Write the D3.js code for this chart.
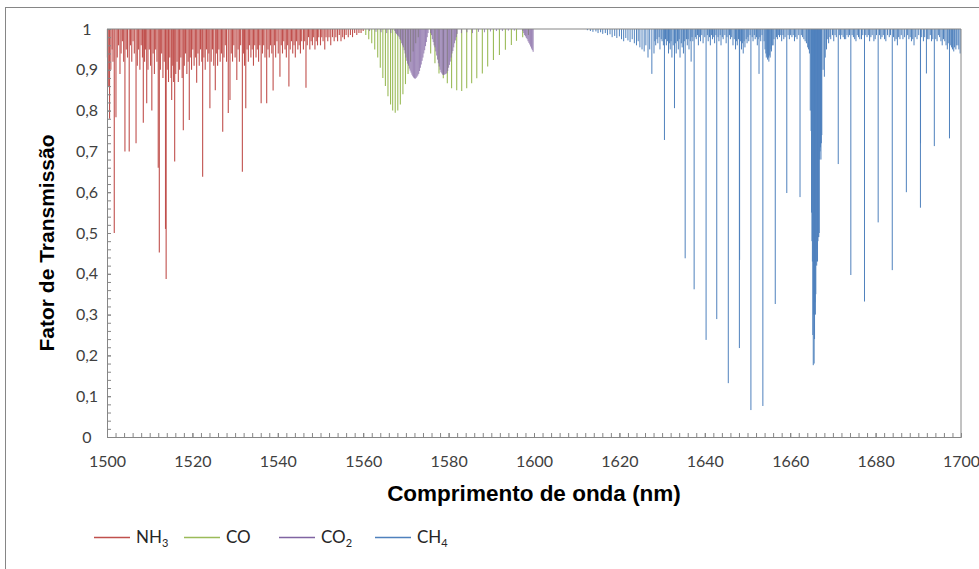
<!DOCTYPE html>
<html><head><meta charset="utf-8">
<script src="https://cdn.jsdelivr.net/npm/d3@7"></script>
<style>body{margin:0;background:#fff}svg{display:block}</style>
</head><body>
<svg id="c" width="979" height="569"></svg>
<script>
// ---------- data ----------
const xTickValues = [1500,1520,1540,1560,1580,1600,1620,1640,1660,1680,1700];
const yTickValues = [0,0.1,0.2,0.3,0.4,0.5,0.6,0.7,0.8,0.9,1];
const yTickLabels = ["0","0,1","0,2","0,3","0,4","0,5","0,6","0,7","0,8","0,9","1"];
const seriesNames = ["NH3","CO","CO2","CH4"];
const seriesColors = ["#C0504D","#9BBB59","#8064A2","#4F81BD"];

// absorption lines: [wavelength nm, transmission at line centre]
const nh3Lines = [
[1500.1,.93],[1500.3,.86],[1500.6,.78],[1500.9,.90],[1501.2,.95],[1501.4,.92],[1501.7,.50],[1502.1,.784],[1502.4,.93],[1502.7,.96],
[1503.04,.89],[1503.3,.94],[1503.6,.97],[1503.9,.92],[1504.2,.70],[1504.5,.95],[1504.8,.93],[1505.2,.70],[1505.5,.96],[1505.8,.92],
[1506.1,.97],[1506.4,.94],[1506.8,.72],[1507.1,.91],[1507.4,.95],[1507.7,.90],[1508.0,.96],[1508.3,.93],[1508.5,.77],[1508.8,.92],
[1509.0,.95],[1509.3,.818],[1509.6,.90],[1509.9,.95],[1510.2,.91],[1510.5,.80],[1510.8,.94],[1511.1,.89],[1511.4,.95],[1511.7,.92],
[1512.0,.66],[1512.25,.452],[1512.5,.90],[1512.8,.94],[1513.1,.88],[1513.4,.92],[1513.7,.51],[1513.85,.387],[1514.1,.90],[1514.4,.87],
[1514.7,.93],[1515.0,.88],[1515.15,.826],[1515.4,.91],[1515.6,.87],[1515.85,.675],[1516.1,.89],[1516.4,.92],[1516.7,.87],[1517.0,.90],
[1517.3,.93],[1517.6,.88],[1517.87,.752],[1518.1,.91],[1518.4,.94],[1518.7,.89],[1519.0,.92],[1519.27,.777],[1519.5,.93],[1519.8,.90],
[1520.1,.95],[1520.4,.91],[1520.7,.93],[1521.0,.868],[1521.3,.94],[1521.6,.91],[1521.9,.95],[1522.2,.92],[1522.4,.638],[1522.7,.93],
[1523.0,.90],[1523.3,.95],[1523.6,.92],[1523.85,.94],[1524.1,.806],[1524.4,.92],[1524.7,.95],[1525.0,.91],[1525.36,.85],[1525.6,.94],
[1525.9,.91],[1526.2,.95],[1526.5,.92],[1526.8,.94],[1527.1,.748],[1527.4,.93],[1527.7,.96],[1528.0,.92],[1528.4,.794],[1528.8,.826],
[1529.1,.94],[1529.4,.92],[1529.7,.96],[1530.0,.93],[1530.4,.875],[1530.7,.95],[1531.0,.92],[1531.3,.96],[1531.7,.65],[1532.0,.94],
[1532.2,.91],[1532.5,.806],[1532.8,.95],[1533.1,.92],[1533.4,.96],[1533.7,.93],[1534.0,.95],[1534.3,.91],[1534.6,.96],[1534.9,.93],
[1535.2,.95],[1535.5,.92],[1535.8,.96],[1536.1,.818],[1536.4,.94],[1536.7,.96],[1537.0,.93],[1537.4,.818],[1537.7,.95],[1538.0,.93],
[1538.3,.96],[1538.6,.94],[1538.9,.849],[1539.2,.96],[1539.5,.93],[1539.8,.97],[1540.1,.94],[1540.5,.883],[1540.8,.96],[1541.1,.94],
[1541.4,.97],[1541.7,.95],[1542.0,.93],[1542.3,.96],[1542.6,.859],[1542.9,.95],[1543.2,.97],[1543.5,.94],[1543.8,.96],[1544.1,.93],
[1544.4,.97],[1544.7,.95],[1545.0,.96],[1545.3,.94],[1545.6,.97],[1546.0,.95],[1546.3,.97],[1546.6,.856],[1546.9,.96],[1547.2,.98],
[1547.5,.95],[1547.8,.97],[1548.1,.96],[1548.4,.98],[1548.7,.95],[1549.0,.97],[1549.3,.96],[1549.6,.98],[1550.0,.96],[1550.3,.98],
[1550.6,.97],[1551.0,.95],[1551.3,.98],[1551.7,.97],[1552.0,.98],[1552.4,.96],[1552.8,.98],[1553.2,.97],[1553.6,.98],[1554.0,.97],
[1554.4,.985],[1554.8,.97],[1555.2,.98],[1555.6,.975],[1556.0,.985],[1556.5,.98],[1557.0,.985],[1557.5,.98],[1558.0,.99],[1558.5,.985],
[1559.0,.99],[1559.5,.99],[1560.0,.995]
];

const coLines = [
[1560.6,.985],[1561.3,.975],[1562.0,.965],[1562.7,.95],[1563.4,.93],[1564.0,.905],[1564.6,.88],[1565.2,.86],[1565.8,.835],[1566.4,.815],
[1566.9,.80],[1567.5,.795],[1568.1,.80],[1568.7,.815],[1569.3,.84],[1569.9,.865],[1570.5,.89],[1571.1,.92],[1571.7,.945],[1572.3,.965],
[1572.9,.98],
[1575.8,.94],[1576.8,.916],[1577.75,.891],[1578.76,.879],[1579.7,.867],[1580.7,.855],[1581.9,.85],[1583.07,.848],[1584.24,.855],[1585.4,.867],
[1586.6,.879],[1587.9,.891],[1589.15,.908],[1590.5,.924],[1591.9,.936],[1593.3,.949],[1594.7,.961],[1595.9,.971],[1597.35,.98],[1598.7,.985]
];

const co2Lines = [
[1561.5,.995],[1563.0,.993],[1564.2,.992],[1565.5,.99],[1566.5,.99],
[1567.4,.995],[1567.6,.99],[1567.8,.988],[1568.0,.985],[1568.2,.983],[1568.4,.98],[1568.6,.975],[1568.8,.972],[1569.0,.965],[1569.2,.96],
[1569.4,.955],[1569.6,.948],[1569.8,.94],[1570.0,.93],[1570.2,.922],[1570.4,.915],[1570.6,.91],[1570.8,.903],[1571.0,.898],[1571.2,.893],
[1571.4,.888],[1571.6,.884],[1571.8,.881],[1572.0,.879],[1572.2,.878],[1572.4,.88],[1572.6,.883],[1572.8,.886],[1573.0,.89],[1573.2,.897],
[1573.4,.905],[1573.6,.913],[1573.8,.922],[1574.0,.93],[1574.2,.94],[1574.4,.948],[1574.6,.958],[1574.8,.968],[1575.0,.98],[1575.2,.99],
[1575.8,.99],[1576.0,.985],[1576.2,.975],[1576.4,.968],[1576.6,.96],[1576.8,.955],[1577.0,.945],[1577.2,.935],[1577.4,.925],[1577.6,.916],
[1577.8,.908],[1578.0,.90],[1578.2,.894],[1578.4,.891],[1578.6,.888],[1578.8,.887],[1579.0,.888],[1579.2,.889],[1579.4,.89],[1579.6,.892],
[1579.8,.897],[1580.0,.905],[1580.2,.912],[1580.4,.92],[1580.6,.93],[1580.8,.94],[1581.0,.946],[1581.2,.955],[1581.4,.965],[1581.6,.972],
[1581.8,.98],[1582.0,.988],
[1583.0,.99],[1584.3,.992],[1585.6,.99],[1587.0,.993],[1588.4,.992],[1589.8,.994],[1591.2,.995],[1592.6,.995],[1594.0,.996],[1595.4,.996],
[1597.4,.995],[1597.6,.99],[1597.8,.985],[1598.0,.982],[1598.2,.978],[1598.4,.975],[1598.6,.97],[1598.8,.966],[1599.0,.962],[1599.2,.957],
[1599.4,.952],[1599.6,.948],[1599.8,.944]
];

const ch4Lines = [
[1612.5,.997],[1613.2,.995],[1613.8,.993],[1614.5,.994],[1615.0,.99],[1615.6,.992],[1616.1,.988],[1616.7,.99],[1617.2,.985],[1617.8,.987],
[1618.3,.98],[1618.9,.983],[1619.4,.978],[1620.0,.982],[1620.5,.975],[1621.0,.97],[1621.5,.978],[1622.0,.972],[1622.5,.968],[1623.0,.975],
[1623.5,.965],[1624.0,.96],[1624.4,.97],[1624.8,.955],[1625.3,.95],[1625.8,.945],[1626.2,.96],[1626.7,.93],[1627.1,.95],[1627.6,.89],
[1628.1,.94],[1628.3,.97],[1628.5,.96],[1628.8,.975],[1629.0,.965],[1629.3,.98],[1629.5,.95],[1629.8,.975],[1630.0,.97],[1630.3,.96],
[1630.55,.728],[1630.8,.975],[1631.0,.96],[1631.3,.97],[1631.5,.94],[1631.7,.965],[1631.9,.95],[1632.1,.97],[1632.3,.93],[1632.6,.96],
[1632.9,.806],[1633.1,.965],[1633.3,.94],[1633.6,.97],[1633.8,.95],[1634.0,.975],[1634.2,.93],[1634.5,.965],[1634.7,.955],[1635.0,.94],
[1635.2,.97],[1635.4,.438],[1635.7,.975],[1635.9,.96],[1636.1,.975],[1636.3,.95],[1636.6,.97],[1636.8,.92],[1637.0,.98],[1637.2,.97],
[1637.5,.362],[1637.8,.98],[1638.0,.975],[1638.3,.985],[1638.5,.96],[1638.8,.98],[1639.0,.97],[1639.3,.985],[1639.6,.965],[1640.0,.98],
[1640.3,.238],[1640.6,.985],[1640.8,.97],[1641.1,.98],[1641.3,.96],[1641.6,.985],[1641.8,.975],[1642.1,.98],[1642.3,.965],[1642.6,.985],
[1642.8,.289],[1643.1,.98],[1643.3,.97],[1643.6,.985],[1643.8,.96],[1644.1,.98],[1644.3,.975],[1644.7,.985],[1645.0,.965],[1645.2,.98],
[1645.5,.132],[1645.8,.985],[1646.0,.975],[1646.3,.98],[1646.6,.96],[1646.9,.975],[1647.2,.95],[1647.4,.97],[1647.6,.96],[1647.9,.975],
[1648.1,.218],[1648.15,.434],[1648.4,.97],[1648.6,.95],[1648.8,.965],[1649.0,.94],[1649.2,.97],[1649.4,.955],[1649.7,.975],[1649.9,.965],
[1650.1,.98],[1650.3,.97],[1650.6,.985],[1650.8,.066],[1651.1,.98],[1651.3,.97],[1651.6,.985],[1651.8,.975],[1652.1,.98],[1652.3,.96],
[1652.5,.975],[1652.7,.89],[1652.9,.98],[1653.1,.97],[1653.4,.985],[1653.6,.076],[1653.9,.97],[1654.1,.95],[1654.3,.94],[1654.4,.93],
[1654.6,.935],[1654.7,.925],[1654.9,.93],[1655.0,.92],[1655.2,.935],[1655.3,.93],[1655.5,.95],[1655.6,.945],[1655.8,.96],[1656.0,.96],
[1656.2,.975],[1656.5,.326],[1656.8,.98],[1657.0,.975],[1657.3,.985],[1657.5,.98],[1657.8,.985],[1658.0,.97],[1658.3,.985],[1658.5,.975],
[1658.8,.98],[1659.2,.598],[1659.5,.985],[1659.8,.975],[1660.1,.985],[1660.4,.98],[1660.7,.985],[1661.0,.97],[1661.3,.98],[1661.6,.975],
[1662.0,.985],[1662.3,.588],[1662.6,.985],[1662.9,.98],[1663.2,.975],[1663.5,.97],[1663.8,.965],[1664.1,.955],[1664.3,.95],[1664.5,.94],
[1664.7,.8],[1664.9,.75],[1665.0,.55],[1665.1,.48],[1665.2,.43],[1665.3,.25],[1665.4,.176],[1665.5,.30],[1665.6,.18],[1665.7,.24],
[1665.8,.33],[1665.9,.30],[1666.0,.35],[1666.1,.43],[1666.2,.42],[1666.3,.46],[1666.4,.43],[1666.5,.48],[1666.6,.49],[1666.7,.49],
[1666.8,.50],[1666.9,.68],[1667.0,.70],[1667.1,.71],[1667.2,.68],[1667.3,.72],[1667.4,.74],
[1667.7,.90],[1668.0,.883],[1668.2,.93],[1668.5,.95],[1668.8,.975],[1669.0,.965],[1669.3,.98],[1669.5,.975],[1669.9,.985],[1670.2,.97],
[1670.5,.985],[1670.8,.98],[1671.25,.669],[1671.5,.985],[1671.8,.975],[1672.1,.985],[1672.4,.98],[1672.7,.975],[1673.0,.975],[1673.3,.985],
[1673.6,.98],[1673.9,.985],[1674.2,.397],[1674.5,.985],[1674.8,.98],[1675.1,.975],[1675.4,.97],[1675.7,.985],[1676.0,.98],[1676.3,.975],
[1676.7,.975],[1677.0,.985],[1677.4,.332],[1677.7,.985],[1678.0,.98],[1678.3,.985],[1678.6,.97],[1678.9,.98],[1679.2,.985],[1679.6,.97],
[1679.9,.975],[1680.2,.985],[1680.6,.526],[1680.9,.985],[1681.2,.975],[1681.5,.98],[1681.8,.985],[1682.1,.975],[1682.4,.97],[1682.8,.985],
[1683.2,.98],[1683.5,.985],[1683.9,.409],[1684.2,.98],[1684.5,.97],[1684.8,.975],[1685.1,.96],[1685.4,.98],[1685.7,.975],[1686.0,.985],
[1686.4,.975],[1686.8,.98],[1687.2,.60],[1687.5,.985],[1687.8,.975],[1688.1,.98],[1688.4,.97],[1688.7,.975],[1689.0,.96],[1689.3,.98],
[1689.7,.975],[1690.1,.985],[1690.5,.562],[1690.52,.72],[1690.8,.98],[1691.2,.97],[1691.5,.98],[1691.9,.891],[1692.2,.975],[1692.5,.975],
[1692.8,.985],[1693.1,.97],[1693.4,.975],[1693.75,.713],[1694.1,.975],[1694.4,.97],[1694.7,.985],[1695.0,.98],[1695.3,.97],[1695.6,.96],
[1695.9,.975],[1696.2,.97],[1696.5,.96],[1696.8,.95],[1697.0,.965],[1697.3,.732],[1697.6,.96],[1697.8,.955],[1698.0,.95],[1698.3,.945],
[1698.5,.955],[1698.8,.95],[1699.0,.96],[1699.3,.96],[1699.5,.95],[1699.8,.94]
];
const allSeries = [nh3Lines, coLines, co2Lines, ch4Lines];
const seriesWidths = [1.1, 1.1, 0.75, 1.0];

// ---------- drawing ----------
const svg = d3.select("#c");
const x = d3.scaleLinear().domain([1500,1700]).range([107,961]);
const y = d3.scaleLinear().domain([0,1]).range([437,29]);
const axisColor = "#868686";
const labelFont = "Lato, 'Liberation Sans', sans-serif";

// chart area border
svg.append("rect").attr("x",5.5).attr("y",7.5).attr("width",990).attr("height",600)
  .attr("fill","none").attr("stroke",axisColor).attr("stroke-width",1);

// spectra
allSeries.forEach((lines,i)=>{
  svg.append("g").selectAll("line").data(lines).join("line")
    .attr("x1",d=>x(d[0])).attr("x2",d=>x(d[0]))
    .attr("y1",y(1)).attr("y2",d=>y(d[1]))
    .style("stroke",seriesColors[i]).style("stroke-width",seriesWidths[i]);
});

// plot border (top / right)
svg.append("path")
  .attr("d",`M${x(1500)},${y(1)}H${x(1700)}V${y(0)}`)
  .attr("fill","none").attr("stroke",axisColor).attr("stroke-width",1);

// x axis
const xMinor = d3.range(1500,1701,2);
const gxMinor = svg.append("g").attr("transform",`translate(0,${y(0)})`)
  .call(d3.axisBottom(x).tickValues(xMinor).tickFormat("").tickSizeInner(-4).tickSizeOuter(0));
const gx = svg.append("g").attr("transform",`translate(0,${y(0)})`)
  .call(d3.axisBottom(x).tickValues(xTickValues).tickFormat(d3.format("d")).tickSizeInner(-4).tickSizeOuter(0).tickPadding(19));
[gxMinor,gx].forEach(g=>{g.selectAll("path,line").attr("stroke",axisColor);});
gx.selectAll("text").attr("font-family",labelFont).attr("font-size",16).attr("fill","#404040");

// y axis
const yMinor = d3.range(0,51).map(i=>i/50);
const gyMinor = svg.append("g").attr("transform",`translate(${x(1500)},0)`)
  .call(d3.axisLeft(y).tickValues(yMinor).tickFormat("").tickSizeInner(-4).tickSizeOuter(0));
const gy = svg.append("g").attr("transform",`translate(${x(1500)},0)`)
  .call(d3.axisLeft(y).tickValues(yTickValues).tickFormat((d,i)=>yTickLabels[i]).tickSizeInner(-4).tickSizeOuter(0));
[gyMinor,gy].forEach(g=>{g.selectAll("path,line").attr("stroke",axisColor);});
gy.selectAll("text").attr("x",-20).attr("text-anchor","middle")
  .attr("font-family",labelFont).attr("font-size",16).attr("fill","#404040");

// axis titles
svg.append("text").attr("x",(x(1500)+x(1700))/2).attr("y",501).attr("text-anchor","middle")
  .attr("font-family","'Liberation Sans', Arial, sans-serif").attr("font-weight","bold").attr("font-size",22.5)
  .attr("fill","#000").text("Comprimento de onda (nm)");
svg.append("text").attr("transform","translate(54,243) rotate(-90)").attr("text-anchor","middle")
  .attr("font-family","'Liberation Sans', Arial, sans-serif").attr("font-weight","bold").attr("font-size",21)
  .attr("fill","#000").text("Fator de Transmissão");

// legend
const legendX = [94,184,279,375];
const legendSub = ["3","","2","4"];
const legendBase = ["NH","CO","CO","CH"];
const lg = svg.append("g");
seriesNames.forEach((name,i)=>{
  lg.append("line").attr("x1",legendX[i]).attr("x2",legendX[i]+36).attr("y1",537.5).attr("y2",537.5)
    .style("stroke",seriesColors[i]).style("stroke-width",1.3);
  const t = lg.append("text").attr("x",legendX[i]+42).attr("y",543).attr("font-family",labelFont)
    .attr("font-size",17).attr("fill","#262626");
  t.append("tspan").text(legendBase[i]);
  if(legendSub[i]) t.append("tspan").attr("font-size",11).attr("dy",4).text(legendSub[i]);
});
</script>
</body></html>
